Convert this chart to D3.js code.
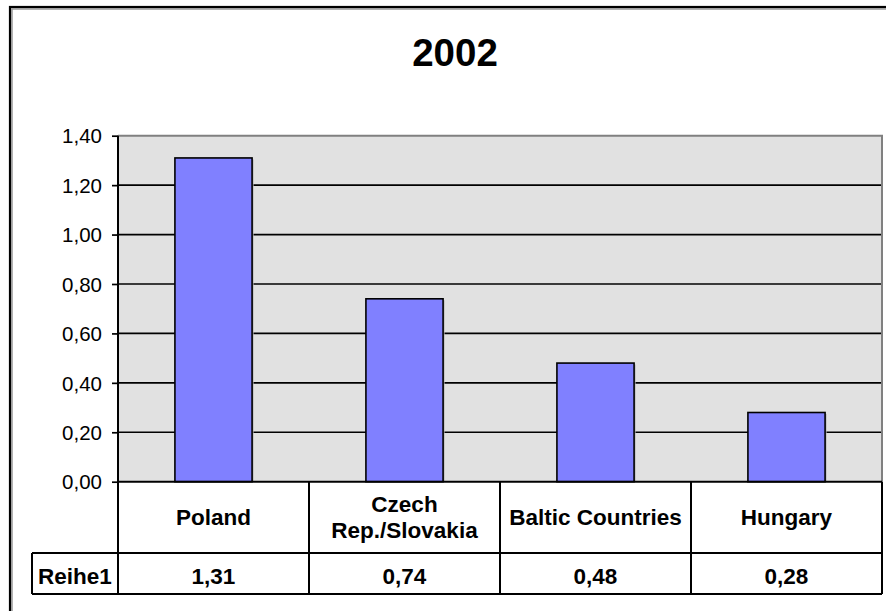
<!DOCTYPE html>
<html><head><meta charset="utf-8">
<script src="https://cdn.jsdelivr.net/npm/d3@7"></script>
<style>
html,body{margin:0;padding:0;background:#fff;}
svg{display:block;font-family:Arial,"Liberation Sans",sans-serif;}
</style></head>
<body><svg id="c" width="886" height="611"></svg>
<script>
const title = "2002";
const categories = ["Poland", "Czech Rep./Slovakia", "Baltic Countries", "Hungary"];
const seriesName = "Reihe1";
const values = [1.31, 0.74, 0.48, 0.28];
const yTicks = [0, 0.2, 0.4, 0.6, 0.8, 1.0, 1.2, 1.4];

const svg = d3.select("#c");
const L = 118, R = 882, T = 135.7, B = 481.7;
const row1 = 553, row2 = 594, labelLeft = 32;

const loc = d3.formatLocale({decimal: ",", thousands: ".", grouping: [3], currency: ["", "€"]});
const fmt = loc.format(".2f");

// frame
svg.append("rect").attr("x", 12).attr("y", 9).attr("width", 900).attr("height", 640)
  .attr("fill", "none").attr("stroke", "#999").attr("stroke-width", 1.5);
svg.append("rect").attr("x", 10).attr("y", 7).attr("width", 900).attr("height", 640)
  .attr("fill", "none").attr("stroke", "#000").attr("stroke-width", 2.2);

svg.append("text").attr("x", 455).attr("y", 65.7).attr("text-anchor", "middle")
  .attr("font-size", 38.5).attr("font-weight", "bold").text(title);

const y = d3.scaleLinear().domain([0, 1.4]).range([B, T]);
const x = d3.scaleBand().domain(categories).range([L, R]).paddingInner(0.596).paddingOuter(0.298);
const col = d3.scaleBand().domain(categories).range([L, R]).padding(0);

// plot background
svg.append("rect").attr("x", L).attr("y", T).attr("width", R - L).attr("height", B - T).attr("fill", "#e1e1e1");

// gridlines
svg.append("g").selectAll("line").data(yTicks.filter(d => d > 0 && d < 1.4)).join("line")
  .attr("x1", L).attr("x2", R).attr("y1", d => y(d)).attr("y2", d => y(d))
  .attr("stroke", "#000").attr("stroke-width", 1.7);

// plot border top/right gray
svg.append("path").attr("d", `M${L},${T}H${R}V${B}`).attr("fill", "none").attr("stroke", "#808080").attr("stroke-width", 2);

// bars
const bars = svg.append("g");
bars.selectAll("rect.sh").data(values).join("rect").attr("class", "sh")
  .attr("x", (d, i) => x(categories[i]) + 1.5).attr("y", d => y(d) + 1.5)
  .attr("width", x.bandwidth()).attr("height", d => B - y(d) - 1.5).attr("fill", "#b4b4b4");
bars.selectAll("rect.b").data(values).join("rect").attr("class", "b")
  .attr("x", (d, i) => x(categories[i])).attr("y", d => y(d))
  .attr("width", x.bandwidth()).attr("height", d => B - y(d))
  .attr("fill", "#8080ff").attr("stroke", "#000").attr("stroke-width", 1.6);

// y axis
const yAxis = d3.axisLeft(y).tickValues(yTicks).tickFormat(fmt).tickSize(6).tickPadding(10);
const ga = svg.append("g").attr("transform", `translate(${L},0)`).call(yAxis);
ga.select(".domain").remove();
ga.selectAll(".tick line").attr("stroke", "#000").attr("stroke-width", 1.7);
ga.selectAll(".tick text").attr("font-size", 20.5).attr("fill", "#000")
  .attr("font-family", "Arial,'Liberation Sans',sans-serif").attr("dy", "0.35em");
svg.append("line").attr("x1", L).attr("x2", L).attr("y1", T).attr("y2", row2).attr("stroke", "#000").attr("stroke-width", 2);

// data table lines
const tbl = svg.append("g").attr("stroke", "#000").attr("stroke-width", 2);
tbl.append("line").attr("x1", L).attr("x2", R).attr("y1", B).attr("y2", B);
tbl.append("line").attr("x1", labelLeft).attr("x2", R).attr("y1", row1).attr("y2", row1);
tbl.append("line").attr("x1", labelLeft).attr("x2", R).attr("y1", row2).attr("y2", row2);
tbl.append("line").attr("x1", labelLeft).attr("x2", labelLeft).attr("y1", row1).attr("y2", row2);
tbl.selectAll("line.v").data(categories).join("line").attr("class", "v")
  .attr("x1", d => col(d) + col.bandwidth()).attr("x2", d => col(d) + col.bandwidth())
  .attr("y1", B).attr("y2", row2);

// category labels with wrap
const fs = 22.5;
const catG = svg.append("g").attr("font-size", fs).attr("font-weight", "bold").attr("text-anchor", "middle");
categories.forEach(c => {
  const cx = col(c) + col.bandwidth() / 2;
  const t = catG.append("text").attr("x", cx);
  const words = c.split(" ");
  let lines = [], cur = [];
  const probe = catG.append("text").attr("visibility", "hidden");
  words.forEach(w => {
    const test = cur.concat([w]).join(" ");
    probe.text(test);
    if (probe.node().getComputedTextLength() > col.bandwidth() - 8 && cur.length) {
      lines.push(cur.join(" ")); cur = [w];
    } else cur.push(w);
  });
  lines.push(cur.join(" "));
  probe.remove();
  const lh = 26.5;
  const mid = (B + row1) / 2 + 7.8;
  lines.forEach((ln, i) => {
    t.append("tspan").attr("x", cx).attr("y", mid + (i - (lines.length - 1) / 2) * lh).text(ln);
  });
});

// values row
const valG = svg.append("g").attr("font-size", fs).attr("font-weight", "bold").attr("text-anchor", "middle");
valG.append("text").attr("x", (labelLeft + L) / 2).attr("y", 583.8).text(seriesName);
valG.selectAll("text.v").data(values).join("text").attr("class", "v")
  .attr("x", (d, i) => col(categories[i]) + col.bandwidth() / 2).attr("y", 583.8).text(d => fmt(d));
</script></body></html>
